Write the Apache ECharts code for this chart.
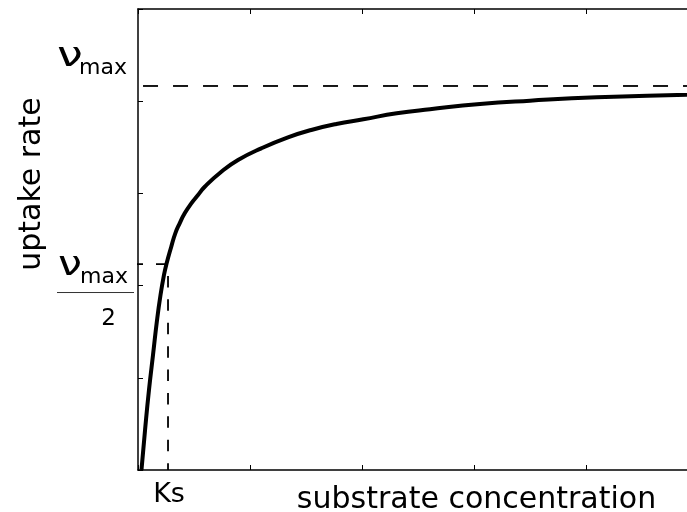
<!DOCTYPE html>
<html>
<head>
<meta charset="utf-8">
<script src="https://cdn.jsdelivr.net/npm/echarts@6/dist/echarts.min.js"></script>
<style>
html, body { margin: 0; padding: 0; background: #fff; }
#chart { width: 687px; height: 512px; }
</style>
</head>
<body>
<div id="chart"></div>
<script>
// Saturation (Michaelis–Menten style) uptake curve, sampled points
const substrate = [0.031, 0.063, 0.098, 0.134, 0.170, 0.201, 0.232, 0.254, 0.297, 0.333,
  0.372, 0.417, 0.476, 0.536, 0.596, 0.744, 0.893, 1.101, 1.339, 1.547,
  1.771, 2.012, 2.310, 2.607, 3.054, 3.500, 4.096, 4.902, 5.196];
const uptake = [0.000, 0.434, 0.868, 1.247, 1.627, 1.898, 2.115, 2.234, 2.422, 2.567,
  2.675, 2.784, 2.892, 2.983, 3.072, 3.235, 3.362, 3.489, 3.608, 3.688,
  3.753, 3.804, 3.869, 3.913, 3.970, 4.006, 4.043, 4.071, 4.084];

// Reference levels
const vMax = 4.165;
const vHalf = 2.234;
const Ks = 0.268;
// Where the dashed guides begin, left of the axis
const vMaxGuideFrom = -0.223;
const vHalfGuideFrom = -0.25;
const guideTo = 6;

const FONT = 'DejaVu Sans';
const BLACK = '#000';

const chart = echarts.init(document.getElementById('chart'), null, { renderer: 'canvas' });

const axisCommon = {
  type: 'value',
  interval: 1,
  axisLine: { show: true, onZero: false, lineStyle: { color: BLACK, width: 1.5 } },
  axisTick: { show: true, inside: true, length: 5, lineStyle: { color: BLACK, width: 1 } },
  axisLabel: { show: false },
  splitLine: { show: false }
};

const option = {
  animation: false,
  backgroundColor: '#fff',
  grid: { left: 138, top: 9, right: -123, bottom: 42, containLabel: false, outerBoundsMode: 'none' },
  xAxis: [
    Object.assign({}, axisCommon, {
      min: 0, max: 6, position: 'bottom',
      name: 'substrate concentration',
      nameLocation: 'middle',
      nameGap: 15,
      nameTextStyle: { fontFamily: FONT, fontSize: 30, color: BLACK, padding: [0, 0, 0, 5] }
    }),
    Object.assign({}, axisCommon, { min: 0, max: 6, position: 'top' })
  ],
  yAxis: [
    Object.assign({}, axisCommon, { min: 0, max: 5, position: 'left' }),
    Object.assign({}, axisCommon, { min: 0, max: 5, position: 'right' })
  ],
  series: [
    {
      type: 'line',
      data: substrate.map((s, i) => [s, uptake[i]]),
      showSymbol: false,
      smooth: 0.5,
      lineStyle: { color: BLACK, width: 4 },
      z: 5
    },
    {
      type: 'line',
      data: [[vMaxGuideFrom, vMax], [guideTo, vMax]],
      showSymbol: false,
      clip: false,
      lineStyle: { color: BLACK, width: 1.8, type: [15, 15] },
      z: 3
    },
    {
      type: 'line',
      data: [[vHalfGuideFrom, vHalf], [Ks, vHalf]],
      showSymbol: false,
      clip: false,
      lineStyle: { color: BLACK, width: 1.8, type: [10, 13] },
      z: 3
    },
    {
      type: 'line',
      data: [[Ks, vHalf], [Ks, 0]],
      showSymbol: false,
      clip: false,
      lineStyle: { color: BLACK, width: 1.8, type: [11.5, 11.9], dashOffset: 11.5 },
      z: 3
    }
  ]
};

chart.setOption(option);

// Annotations anchored to the reference levels
const pV = chart.convertToPixel({ gridIndex: 0 }, [0, vMax]);
const pH = chart.convertToPixel({ gridIndex: 0 }, [0, vHalf]);
const pK = chart.convertToPixel({ gridIndex: 0 }, [Ks, 0]);

function txt(text, x, y, size, align, sx) {
  return {
    type: 'text',
    x: x, y: y,
    scaleX: sx || 1,
    style: {
      text: text, fill: BLACK, fontFamily: FONT, fontSize: size,
      align: align || 'left', verticalAlign: 'middle'
    }
  };
}

chart.setOption({
  graphic: [
    txt('ν', pV[0] - 81, pV[1] - 29, 33, 'left', 1.4),
    txt('max', pV[0] - 59, pV[1] - 18, 22),
    txt('ν', pH[0] - 80, pH[1] + 2, 33, 'left', 1.3),
    txt('max', pH[0] - 58, pH[1] + 13, 22),
    {
      type: 'line',
      shape: { x1: pH[0] - 81, y1: pH[1] + 28.5, x2: pH[0] - 4, y2: pH[1] + 28.5 },
      style: { stroke: '#333', lineWidth: 1 }
    },
    txt('2', pH[0] - 29.5, pH[1] + 55, 23, 'center'),
    txt('Ks', pK[0] + 1, pK[1] + 25, 27, 'center'),
    {
      type: 'text',
      x: 32, y: 184,
      rotation: Math.PI / 2,
      style: {
        text: 'uptake rate', fill: BLACK, fontFamily: FONT, fontSize: 30,
        align: 'center', verticalAlign: 'middle'
      }
    }
  ]
});
</script>
</body>
</html>
